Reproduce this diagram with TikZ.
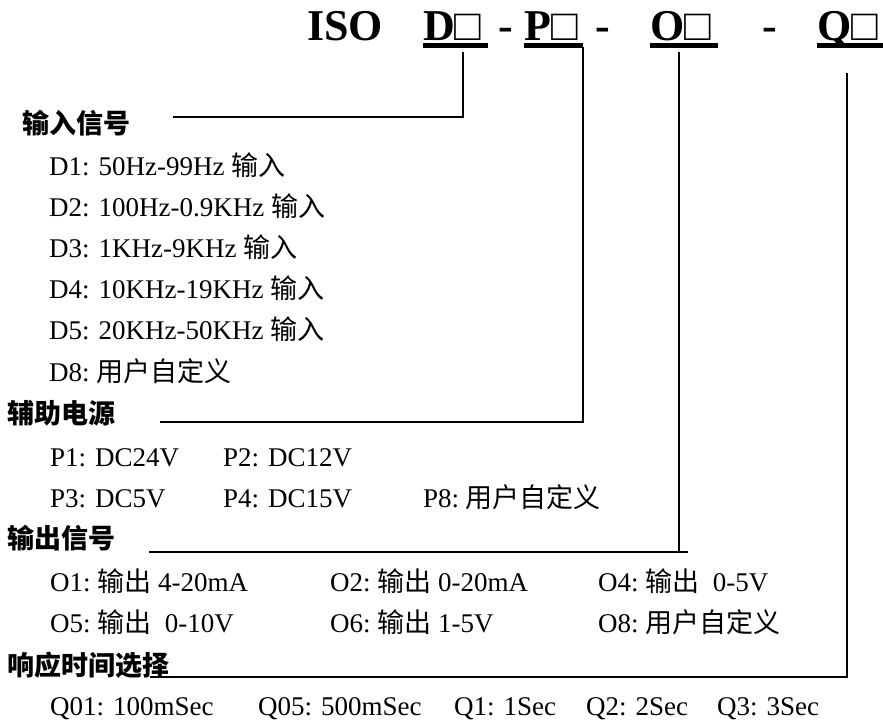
\documentclass[tikz,border=0pt]{standalone}
\usepackage{fontspec}
\setmainfont{Liberation Serif}
\newfontfamily\cjk{Noto Sans CJK SC}
\newcommand{\cn}[1]{{\cjk #1}}
\tikzset{
  code/.style={anchor=base west,inner sep=0pt,font=\fontsize{44}{48}\selectfont\bfseries},
  head/.style={anchor=base west,inner sep=0pt,font=\fontsize{27}{30}\selectfont\cjk\bfseries},
  item/.style={anchor=base west,inner sep=0pt,font=\fontsize{27}{30}\selectfont},
  conn/.style={line width=1.3pt},
  uline/.style={line width=5pt}
}
\begin{document}
\begin{tikzpicture}[x=1pt,y=-1pt]
  \useasboundingbox (0,0) rectangle (883,720);
  % model code
  \node[code] (iso) at (307,40) {ISO};
  \node[code] (dcode) at (423,40) {D{\mdseries □}};
  \node[code] (dash1) at (498,40) {-};
  \node[code] (pcode) at (524,40) {P{\mdseries □}};
  \node[code] (dash2) at (595,40) {-};
  \node[code] (ocode) at (650,40) {O{\mdseries □}};
  \node[code] (dash3) at (762,40) {-};
  \node[code] (qcode) at (817,40) {Q{\mdseries □}};
  \draw[uline] (423,45.5) -- (488,45.5);
  \draw[uline] (524,45.5) -- (583,45.5);
  \draw[uline] (650,45.5) -- (718,45.5);
  \draw[uline] (817,45.5) -- (883,45.5);
  % group headings
  \node[head] (inhead) at (22,133) {输入信号};
  \node[head] (pwhead) at (7,423) {辅助电源};
  \node[head] (outhead) at (7,548) {输出信号};
  \node[head] (rthead) at (7,675) {响应时间选择};
  % input signal
  \node[item] (d1) at (49,175) {D1: 50Hz-99Hz \cn{输入}};
  \node[item] (d2) at (49,216) {D2: 100Hz-0.9KHz \cn{输入}};
  \node[item] (d3) at (49,257) {D3: 1KHz-9KHz \cn{输入}};
  \node[item] (d4) at (49,298) {D4: 10KHz-19KHz \cn{输入}};
  \node[item] (d5) at (49,339) {D5: 20KHz-50KHz \cn{输入}};
  \node[item] (d8) at (49,381) {D8:\ \cn{用户自定义}};
  % power supply
  \node[item] (p1) at (50,466) {P1: DC24V};
  \node[item] (p2) at (223,466) {P2: DC12V};
  \node[item] (p3) at (50,507) {P3: DC5V};
  \node[item] (p4) at (223,507) {P4: DC15V};
  \node[item] (p8) at (423,507) {P8:\ \cn{用户自定义}};
  % output signal
  \node[item] (o1) at (50,591) {O1:\ \cn{输出} 4-20mA};
  \node[item] (o2) at (330,591) {O2:\ \cn{输出} 0-20mA};
  \node[item] (o4) at (598,591) {O4:\ \cn{输出}\ \ 0-5V};
  \node[item] (o5) at (50,632) {O5:\ \cn{输出}\ \ 0-10V};
  \node[item] (o6) at (330,632) {O6:\ \cn{输出} 1-5V};
  \node[item] (o8) at (598,632) {O8:\ \cn{用户自定义}};
  % response time
  \node[item] (q01) at (50,715) {Q01: 100mSec};
  \node[item] (q05) at (258,715) {Q05: 500mSec};
  \node[item] (q1) at (454,715) {Q1: 1Sec};
  \node[item] (q2) at (586,715) {Q2: 2Sec};
  \node[item] (q3) at (717,715) {Q3: 3Sec};
  % leader lines
  \coordinate (dtop) at (463,52);
  \coordinate (dend) at (173,117);
  \coordinate (ptop) at (583,47);
  \coordinate (pend) at (160,422);
  \coordinate (otop) at (679,52);
  \coordinate (oend) at (149,552);
  \coordinate (qtop) at (847,73);
  \coordinate (qend) at (175,677);
  \draw[conn] (dtop) |- (dend);
  \draw[conn] (ptop) |- (pend);
  \draw[conn] (otop) |- (oend);
  \draw[conn] (otop |- oend) -- ++(9,0);
  \draw[conn] (qtop) |- (qend);
  \draw[line width=2pt] (150,677) -- (440,677);
\end{tikzpicture}
\end{document}
